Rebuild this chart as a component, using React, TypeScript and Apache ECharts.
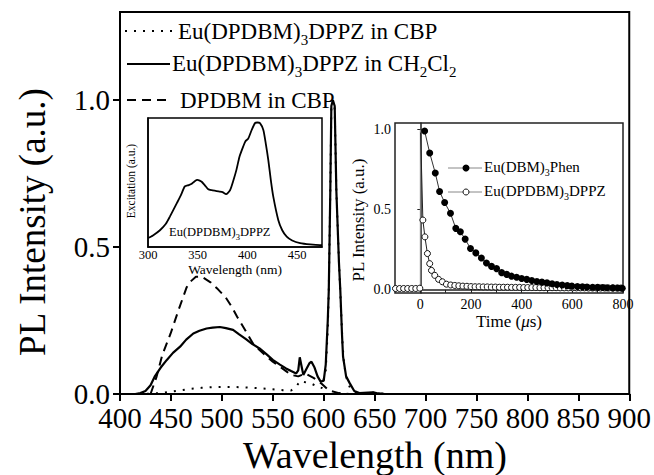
import React, { useEffect, useRef } from "react";
import * as echarts from "echarts";

const SERIF = '"Liberation Serif", "Times New Roman", serif';

// Main spectra (wavelength nm, normalized intensity)
const cbpSpectrum: [number, number][] = [
  [400, 0], [420, 0], [440, 0.003], [450, 0.008], [460, 0.013], [470, 0.018], [480, 0.021],
  [490, 0.023], [500, 0.024], [510, 0.024], [520, 0.023], [530, 0.021], [540, 0.019],
  [550, 0.016], [560, 0.013], [568, 0.012], [573, 0.025], [577, 0.045], [582, 0.04],
  [588, 0.035], [594, 0.025], [598, 0.02], [602, 0.08], [604, 0.22], [605, 0.354],
  [606.5, 0.694], [607.5, 0.97], [609, 1.0], [610.8, 0.97], [612.4, 0.694], [615, 0.45],
  [616.5, 0.33], [618.5, 0.17], [620, 0.1], [623, 0.045], [626, 0.02], [632, 0.004],
  [640, 0.002], [645, 0.008], [650, 0.004], [660, 0], [900, 0]
];
const ch2cl2Spectrum: [number, number][] = [
  [400, 0], [415, 0], [420, 0.003], [425, 0.01], [430, 0.03], [434, 0.059], [440, 0.09],
  [446, 0.116], [452, 0.14], [459, 0.161], [465, 0.185], [472, 0.206], [478, 0.215],
  [485, 0.223], [491, 0.226], [498, 0.228], [504, 0.224], [511, 0.218], [517, 0.203],
  [524, 0.186], [530, 0.17], [537, 0.155], [544, 0.135], [550, 0.116], [557, 0.1],
  [563, 0.087], [568, 0.078], [573, 0.07], [575, 0.08], [576.5, 0.125], [578.5, 0.09],
  [580, 0.065], [583, 0.085], [586, 0.105], [588, 0.11], [591, 0.09], [594, 0.06],
  [597, 0.042], [600, 0.045], [602, 0.1], [604, 0.25], [605, 0.354], [606.5, 0.694],
  [607.5, 0.98], [609, 1.0], [610.8, 0.98], [612.4, 0.694], [615, 0.446], [616.3, 0.354],
  [618, 0.2], [619, 0.127], [622, 0.06], [625.5, 0.037], [630, 0.01], [635, 0.003],
  [648, 0.006], [652, 0.003], [660, 0], [900, 0]
];
const dpdbmSpectrum: [number, number][] = [
  [430, 0], [436, 0.06], [441.5, 0.133], [449.7, 0.206], [457.5, 0.286], [465.4, 0.363],
  [470, 0.385], [474.5, 0.399], [480, 0.4], [488.9, 0.38], [496, 0.357], [503.9, 0.328],
  [510, 0.295], [515, 0.263], [525.2, 0.204], [530.4, 0.173], [537, 0.15], [544, 0.128],
  [550, 0.11], [557, 0.093], [563, 0.078], [568, 0.065], [575, 0.06], [582, 0.07],
  [590, 0.055], [598, 0.035], [605, 0.012], [615, 0.003], [625, 0]
];

// Inset 1: excitation spectrum
const excitation: [number, number][] = [
  [300, 0.07], [305, 0.09], [312, 0.13], [318, 0.18], [322, 0.235], [329, 0.34], [333, 0.4],
  [337, 0.47], [341, 0.48], [344, 0.49], [347, 0.51], [349.6, 0.52], [352, 0.515],
  [354, 0.506], [357, 0.48], [360.6, 0.447], [364, 0.44], [368, 0.435], [372, 0.43],
  [375, 0.425], [378.5, 0.41], [382.5, 0.44], [386, 0.52], [389, 0.6], [392, 0.7],
  [395.8, 0.78], [398, 0.82], [400.8, 0.84], [404.3, 0.907], [407.6, 0.96], [410, 0.965],
  [412.6, 0.96], [416, 0.907], [418.5, 0.8], [421, 0.674], [423.5, 0.52], [426, 0.39],
  [431, 0.21], [435, 0.13], [439.5, 0.08], [445, 0.05], [453, 0.03], [463, 0.02],
  [473, 0.015], [475, 0.015]
];

// Inset 2: decay curves (time us, intensity)
const decayPhen: [number, number][] = [
  [17, 0.99], [37, 0.853], [59, 0.728], [76, 0.613], [96, 0.544], [119, 0.477], [140, 0.383],
  [158, 0.362], [177, 0.316], [198, 0.257], [219, 0.23], [241, 0.198], [261, 0.167],
  [281, 0.146], [301, 0.132], [321, 0.107], [341, 0.096], [360, 0.085], [380, 0.078],
  [400, 0.07], [420, 0.065], [440, 0.058], [460, 0.052], [480, 0.048], [500, 0.043],
  [520, 0.038], [539, 0.033], [560, 0.03], [580, 0.026], [598, 0.023], [620, 0.021],
  [640, 0.019], [658, 0.017], [680, 0.016], [700, 0.015], [720, 0.014], [737, 0.013],
  [760, 0.012], [780, 0.011], [797, 0.01]
];
const decayDppz: [number, number][] = [
  [-98, 0.008], [-82, 0.008], [-66, 0.008], [-50, 0.008], [-34, 0.008], [-18, 0.008],
  [-2, 0.01], [10, 0.435], [18, 0.33], [28, 0.226], [37, 0.163], [44, 0.121], [57, 0.09],
  [72, 0.065], [87, 0.05], [103, 0.035], [120, 0.03], [136, 0.027], [152, 0.025],
  [168, 0.023], [184, 0.022], [200, 0.02], [216, 0.019], [232, 0.019], [248, 0.018],
  [264, 0.018], [280, 0.017], [296, 0.017], [312, 0.016], [328, 0.016], [344, 0.016],
  [360, 0.015], [376, 0.015], [392, 0.015], [408, 0.014], [424, 0.014], [440, 0.014],
  [456, 0.014], [472, 0.013], [488, 0.013], [504, 0.013], [520, 0.013], [536, 0.013],
  [552, 0.012], [568, 0.012], [584, 0.012], [600, 0.012], [616, 0.012], [632, 0.012],
  [648, 0.012], [664, 0.011], [680, 0.011], [696, 0.011], [712, 0.011], [728, 0.011],
  [744, 0.011], [760, 0.011], [776, 0.011], [792, 0.011]
];
const pulse: [number, number][] = [[0, 0], [0, 1.0]];

const mainXTicks = { min: 400, max: 900, interval: 50 };
const mainYTicks = { min: 0, max: 1.3, interval: 0.5 };
const decayXLabels = [0, 200, 400, 600, 800];
const decayXTicks = [0, 100, 200, 300, 400, 500, 600, 700, 800];
const decayYTicks = [0, 0.5, 1.0];

export default function App() {
  const ref = useRef<HTMLDivElement>(null);
  useEffect(() => {
    if (!ref.current) return;
    const chart = echarts.init(ref.current, null, { renderer: "svg" });
    const black = "#000";
    const legendRich = {
      n: { fontSize: 23, fontFamily: SERIF, fill: black },
      s: { fontSize: 15, fontFamily: SERIF, fill: black, padding: [17, 0, 0, 0] },
    };
    const smallRich = {
      n: { fontSize: 15, fontFamily: SERIF, fill: black },
      s: { fontSize: 10, fontFamily: SERIF, fill: black, padding: [11, 0, 0, 0] },
    };
    const option: any = {
      animation: false,
      backgroundColor: "#fff",
      grid: [
        { left: 120, top: 12, width: 510, height: 382, show: true, borderColor: black, borderWidth: 2, backgroundColor: "transparent" },
        { left: 148, top: 118, width: 174, height: 129, show: true, borderColor: black, borderWidth: 1.5, backgroundColor: "#fff" },
        { left: 395, top: 123, width: 228, height: 170, show: true, borderColor: "#222", borderWidth: 1.5, backgroundColor: "#fff" },
      ],
      xAxis: [
        {
          gridIndex: 0, type: "value", ...mainXTicks,
          axisLine: { lineStyle: { color: black, width: 2 } },
          axisTick: { length: 7, lineStyle: { color: black, width: 2 } },
          axisLabel: { fontFamily: SERIF, fontSize: 29, color: black, margin: 9 },
          splitLine: { show: false },
        },
        {
          gridIndex: 1, type: "value", min: 300, max: 475, interval: 50,
          axisLine: { lineStyle: { color: black, width: 1.5 } },
          axisTick: { show: false },
          axisLabel: { fontFamily: SERIF, fontSize: 12.5, color: black, margin: 1, showMaxLabel: false },
          splitLine: { show: false },
        },
        {
          gridIndex: 2, type: "value", min: -100, max: 800,
          axisLine: { lineStyle: { color: "#222", width: 1.5 } },
          axisTick: { customValues: decayXTicks, length: 3, lineStyle: { color: "#222" } },
          axisLabel: { customValues: decayXLabels, fontFamily: SERIF, fontSize: 14, color: black, margin: 4 },
          splitLine: { show: false },
        },
      ],
      yAxis: [
        {
          gridIndex: 0, type: "value", ...mainYTicks,
          axisLine: { show: true, lineStyle: { color: black, width: 2 } },
          axisTick: { show: true, length: 7, lineStyle: { color: black, width: 2 } },
          axisLabel: { fontFamily: SERIF, fontSize: 29, color: black, margin: 10, showMaxLabel: false, formatter: (v: number) => v.toFixed(1) },
          splitLine: { show: false },
        },
        {
          gridIndex: 1, type: "value", min: 0, max: 1,
          axisLine: { show: true, lineStyle: { color: black, width: 1.5 } },
          axisTick: { show: false }, axisLabel: { show: false }, splitLine: { show: false },
        },
        {
          gridIndex: 2, type: "value", min: -0.02, max: 1.04,
          axisLine: { show: true, lineStyle: { color: "#222", width: 1.5 } },
          axisTick: { show: true, customValues: decayYTicks, length: 3, lineStyle: { color: "#222" } },
          axisLabel: { customValues: decayYTicks, fontFamily: SERIF, fontSize: 14, color: black, margin: 4, formatter: (v: number) => v.toFixed(1) },
          splitLine: { show: false },
        },
      ],
      series: [
        {
          type: "line", xAxisIndex: 0, yAxisIndex: 0, data: cbpSpectrum, showSymbol: false, symbol: "none",
          lineStyle: { color: black, width: 2, type: [2, 7] }, z: 3,
        },
        {
          type: "line", xAxisIndex: 0, yAxisIndex: 0, data: dpdbmSpectrum, showSymbol: false, symbol: "none",
          lineStyle: { color: black, width: 2, type: [9, 6] }, z: 3,
        },
        {
          type: "line", xAxisIndex: 0, yAxisIndex: 0, data: ch2cl2Spectrum, showSymbol: false, symbol: "none",
          lineStyle: { color: black, width: 2.2 }, z: 4,
        },
        {
          type: "line", xAxisIndex: 1, yAxisIndex: 1, data: excitation, showSymbol: false, symbol: "none",
          smooth: 0.2, lineStyle: { color: black, width: 1.8 }, z: 5,
        },
        {
          type: "line", xAxisIndex: 2, yAxisIndex: 2, data: pulse, showSymbol: false, symbol: "none",
          lineStyle: { color: "#888", width: 1 }, z: 5,
        },
        {
          type: "line", xAxisIndex: 2, yAxisIndex: 2,
          data: [{ value: [1, 0.98], symbol: "none" }, ...decayDppz.filter((p) => p[0] > 0)],
          symbol: "circle", symbolSize: 6,
          itemStyle: { color: "#fff", borderColor: "#111", borderWidth: 1 },
          lineStyle: { color: "#222", width: 1 }, z: 6,
        },
        {
          type: "line", xAxisIndex: 2, yAxisIndex: 2, data: decayDppz.filter((p) => p[0] <= 0),
          symbol: "circle", symbolSize: 6,
          itemStyle: { color: "#fff", borderColor: "#111", borderWidth: 1 },
          lineStyle: { color: "#222", width: 1 }, z: 6,
        },
        {
          type: "line", xAxisIndex: 2, yAxisIndex: 2, data: [[0, 1.0], ...decayPhen].map((p, i) => i === 0 ? { value: p, symbol: "none" } : p),
          symbol: "circle", symbolSize: 7,
          itemStyle: { color: "#000" },
          lineStyle: { color: "#333", width: 1 }, z: 7,
        },
      ],
      graphic: [
        // main axis titles
        { type: "text", x: 375, y: 455, style: { text: "Wavelength (nm)", font: `38px ${SERIF}`, fill: black, align: "center", verticalAlign: "middle" } },
        { type: "text", x: 32, y: 222, rotation: Math.PI / 2, style: { text: "PL Intensity (a.u.)", font: `37px ${SERIF}`, fill: black, align: "center", verticalAlign: "middle" } },
        // main legend
        { type: "line", shape: { x1: 125, y1: 31, x2: 172, y2: 31 }, style: { stroke: black, lineWidth: 2, lineDash: [2, 7] } },
        { type: "text", x: 178, y: 31, style: { text: "{n|Eu(DPDBM)}{s|3}{n|DPPZ in CBP}", rich: legendRich, align: "left", verticalAlign: "middle" } },
        { type: "line", shape: { x1: 127, y1: 64, x2: 170, y2: 64 }, style: { stroke: black, lineWidth: 2.2 } },
        { type: "text", x: 172, y: 63, style: { text: "{n|Eu(DPDBM)}{s|3}{n|DPPZ in CH}{s|2}{n|Cl}{s|2}", rich: legendRich, align: "left", verticalAlign: "middle" } },
        { type: "line", shape: { x1: 127, y1: 100, x2: 172, y2: 100 }, style: { stroke: black, lineWidth: 2, lineDash: [9, 6] } },
        { type: "text", x: 180, y: 100, style: { text: "DPDBM in CBP", font: `23px ${SERIF}`, fill: black, align: "left", verticalAlign: "middle" } },
        // inset 1 labels
        { type: "text", x: 131, y: 181, rotation: Math.PI / 2, style: { text: "Excitation (a.u.)", font: `11.5px ${SERIF}`, fill: black, align: "center", verticalAlign: "middle" } },
        { type: "text", x: 235, y: 269, style: { text: "Wavelength (nm)", font: `13.5px ${SERIF}`, fill: black, align: "center", verticalAlign: "middle" } },
        { type: "text", x: 169, y: 232, style: { text: "{n|Eu(DPDBM)}{s|3}{n|DPPZ}", rich: {
          n: { fontSize: 12.5, fontFamily: SERIF, fill: black },
          s: { fontSize: 8.5, fontFamily: SERIF, fill: black, padding: [9, 0, 0, 0] },
        }, align: "left", verticalAlign: "middle" } },
        // inset 2 labels
        { type: "text", x: 358, y: 220, rotation: Math.PI / 2, style: { text: "PL Intensity (a.u.)", font: `17px ${SERIF}`, fill: black, align: "center", verticalAlign: "middle" } },
        { type: "text", x: 509, y: 321, style: { text: "{n|Time (}{i|μ}{n|s)}", rich: {
          n: { fontSize: 17, fontFamily: SERIF, fill: black },
          i: { fontSize: 17, fontFamily: SERIF, fontStyle: "italic", fill: black },
        }, align: "center", verticalAlign: "middle" } },
        // inset 2 legend
        { type: "line", shape: { x1: 448, y1: 168, x2: 482, y2: 168 }, style: { stroke: "#888", lineWidth: 1 } },
        { type: "circle", shape: { cx: 466, cy: 168, r: 3.5 }, style: { fill: "#000" } },
        { type: "text", x: 484, y: 167, style: { text: "{n|Eu(DBM)}{s|3}{n|Phen}", rich: smallRich, align: "left", verticalAlign: "middle" } },
        { type: "line", shape: { x1: 448, y1: 192, x2: 482, y2: 192 }, style: { stroke: "#888", lineWidth: 1 } },
        { type: "circle", shape: { cx: 466, cy: 192, r: 3 }, style: { fill: "#fff", stroke: "#111", lineWidth: 1 } },
        { type: "text", x: 484, y: 191, style: { text: "{n|Eu(DPDBM)}{s|3}{n|DPPZ}", rich: smallRich, align: "left", verticalAlign: "middle" } },
      ],
    };
    chart.setOption(option);
    return () => chart.dispose();
  }, []);
  return <div ref={ref} style={{ width: 654, height: 475, position: "absolute", left: 0, top: 0 }} />;
}
